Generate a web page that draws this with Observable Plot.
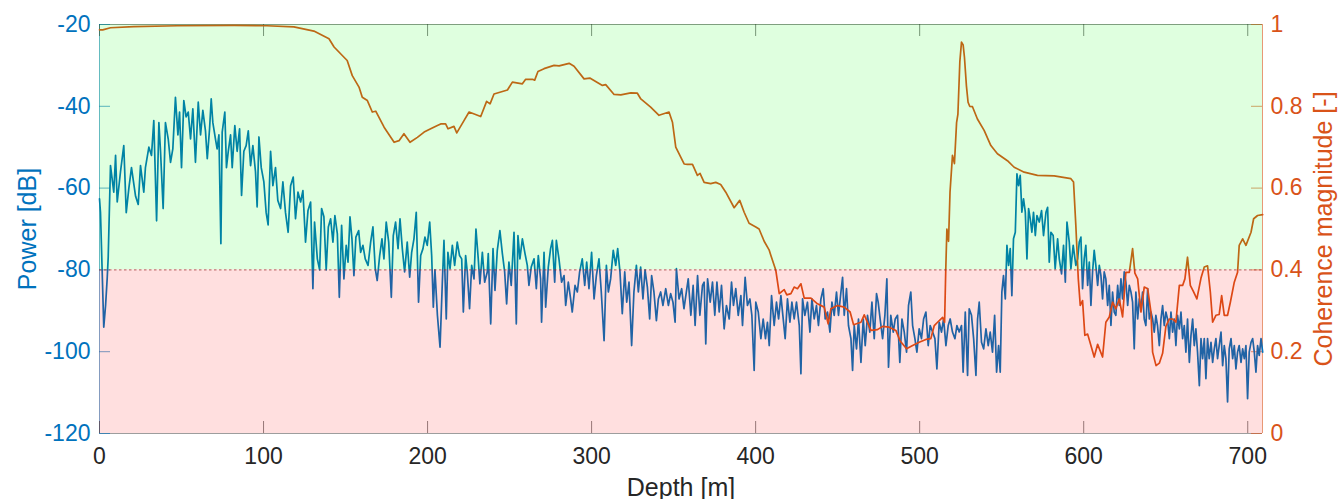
<!DOCTYPE html>
<html><head><meta charset="utf-8">
<script src="https://cdn.jsdelivr.net/npm/d3@7"></script>
<script src="https://cdn.jsdelivr.net/npm/@observablehq/plot@0.6"></script>
<style>
body{margin:0;background:#fff;}
#chart svg{display:block;}
</style></head><body><div id="chart"></div><script>
// ---- data (depth [m], value) ----
const powerSeries = [
[0.0,-62.6],[0.6,-65.9],[2.6,-94.0],[3.7,-88.7],[4.7,-82],[5.3,-77],[6.7,-54.5],[8.7,-61],[9.8,-52],[10.8,-63.4],
[12.8,-56],[14.8,-49.6],[16.3,-66],[17.9,-60],[19.5,-55],[22.0,-62],[23.6,-64],[25.0,-54.5],[27.0,-61],[28.0,-55],
[30.1,-50],[31.7,-52],[33.1,-43.5],[34.8,-68],[36.2,-44],[37.2,-51],[38.8,-65],[40.2,-44],[41.9,-48],[43.3,-53.7],
[44.7,-50.4],[46.3,-37.8],[47.8,-47],[48.8,-41.4],[50.0,-55],[51.4,-38.6],[52.8,-42.6],[54.1,-41.4],[55.5,-48],[56.9,-40.6],
[58.5,-53.7],[60.2,-39],[61.6,-47],[63.0,-41],[64.6,-46],[65.7,-52.8],[67.1,-45.5],[68.1,-38.2],[69.1,-44],[70.7,-48],
[71.7,-50.4],[72.8,-47],[74.0,-73.6],[74.8,-46.3],[76.4,-41.4],[77.4,-55],[78.5,-51],[79.9,-47],[80.9,-55],[82.5,-44.7],
[83.9,-51],[85.4,-45.5],[86.6,-61.8],[88.0,-51],[89.4,-49.6],[90.7,-46],[92.1,-54.5],[93.5,-49.6],[95.1,-56],[96.1,-64.6],
[97.2,-47.5],[98.6,-55],[100.2,-58.5],[101.6,-66],[102.8,-69],[104.3,-51],[105.7,-59.4],[107.3,-55],[108.7,-63],[110.4,-65],
[111.8,-58.5],[113.4,-66],[115.0,-70.8],[116.5,-59.4],[118.1,-57.3],[119.5,-67.5],[121.0,-61],[122.6,-63.4],[124.0,-60.6],[125.6,-73.2],
[127.1,-65.5],[128.7,-63.4],[130.1,-84.6],[131.1,-68.3],[132.8,-77.3],[134.2,-80],[135.4,-65],[136.8,-67],[138.2,-80],[139.5,-69.5],
[140.9,-67.5],[142.3,-73.2],[143.5,-66.7],[145.0,-71.2],[146.2,-86.7],[147.6,-69.1],[149.0,-82.2],[150.4,-74],[151.5,-78.1],[152.7,-67],
[153.9,-72.4],[155.1,-81.4],[156.3,-72],[158.0,-70.4],[159.2,-75.7],[160.6,-74],[162.0,-77.3],[163.7,-78.9],[165.3,-73.2],[166.7,-69.5],
[168.1,-79.7],[169.3,-82.6],[170.8,-76.5],[172.2,-72.4],[173.4,-77.3],[174.8,-68.3],[176.3,-73.2],[177.9,-86.7],[179.1,-71.6],[180.5,-68.3],
[182.0,-74.8],[183.2,-67.5],[184.6,-74.8],[186.0,-80.5],[187.6,-73.2],[189.1,-81.8],[190.3,-75.7],[191.7,-72.4],[193.1,-65.9],[194.5,-87.9],
[195.8,-76.5],[197.2,-74.8],[198.4,-72],[199.8,-74],[201.3,-68.3],[202.5,-76.5],[203.5,-89.1],[204.5,-80],[206.0,-91.1],[207.6,-98.9],
[209.0,-83],[210.0,-72.8],[211.4,-92],[212.4,-75.7],[213.7,-79.7],[215.1,-74],[216.5,-78.9],[218.1,-73.2],[219.5,-76.5],[220.8,-77.3],
[221.8,-90.3],[223.2,-76.5],[224.2,-80.5],[225.6,-89.5],[226.9,-78.9],[228.3,-82.2],[229.5,-70],[230.9,-77.3],[231.9,-83.4],[233.4,-75.7],
[234.8,-83],[236.4,-80.5],[237.0,-76],[238.5,-93.2],[239.9,-74.8],[241.1,-85],[242.5,-75.2],[244.1,-70.4],[245.6,-76],[247.0,-80.5],
[248.2,-88.3],[249.6,-78.1],[251.0,-83.8],[252.7,-70.8],[254.1,-93.2],[255.1,-71.6],[256.3,-77.3],[257.8,-72.4],[259.4,-76],[260.8,-78.9],
[261.8,-83.8],[263.2,-79.3],[264.9,-77.3],[266.3,-84.6],[267.5,-76.5],[268.9,-82.2],[269.5,-92.8],[271.0,-75.7],[272.0,-89.1],[273.6,-79.3],
[275.0,-74.8],[276.1,-72.8],[277.5,-83],[278.5,-72.8],[280.1,-77.3],[281.7,-83],[283.2,-81.4],[284.2,-88.7],[285.8,-83],[287.2,-87.1],
[288.2,-90.3],[289.9,-83.8],[291.3,-85.4],[292.7,-80.5],[294.3,-77.3],[295.8,-83.8],[297.0,-78.1],[298.4,-84.6],[300.0,-75.7],[301.5,-87.1],
[302.9,-81.4],[304.5,-77.3],[305.9,-85.4],[307.6,-97.3],[309.0,-78.9],[310.2,-85.4],[311.6,-82.2],[313.2,-75.2],[314.7,-78.9],[315.9,-74.8],
[317.3,-80.5],[318.7,-90.7],[320.2,-80.5],[321.4,-87.9],[322.8,-83],[324.4,-98.5],[325.8,-85.4],[327.3,-78.9],[328.5,-85.4],[329.9,-79.3],
[331.3,-87.1],[332.6,-80],[334.0,-84.2],[335.4,-92],[336.6,-81.4],[338.0,-85.4],[339.5,-92.4],[340.7,-87.1],[342.1,-85.4],[343.5,-88.7],
[345.2,-84.6],[346.8,-88.7],[348.2,-85.8],[349.6,-87.9],[350.9,-92.8],[351.7,-79.7],[353.3,-87.1],[354.9,-84.6],[356.3,-89.5],[358.9,-82.2],
[360.5,-91.1],[361.9,-83.8],[363.1,-93.6],[364.6,-81.4],[366.0,-91.1],[367.6,-83.8],[368.6,-83],[369.6,-98.1],[370.7,-82.2],[372.3,-87.9],
[373.7,-83],[375.1,-91.1],[376.4,-83],[377.8,-90.3],[379.2,-83.8],[380.8,-94.4],[382.2,-88.7],[383.9,-92],[385.3,-83],[386.5,-88.7],
[387.9,-84.6],[389.4,-91.1],[391.0,-86.3],[392.0,-93.6],[393.6,-81.8],[395.0,-88.7],[396.5,-87.1],[397.7,-91.1],[399.1,-104.6],[400.1,-87.9],
[401.6,-90.3],[403.2,-96.8],[404.6,-92],[406.0,-96.8],[407.2,-92.8],[408.3,-98.5],[409.7,-86.3],[411.3,-93.6],[412.7,-87.9],[414.0,-92],
[415.4,-86.3],[416.6,-91.1],[418.0,-96.8],[419.4,-87.1],[420.9,-92.8],[422.1,-87.9],[423.5,-92],[424.9,-87.9],[426.6,-93.6],[427.6,-105.4],
[428.6,-87.1],[430.0,-91.1],[431.6,-87.9],[433.1,-95.2],[434.3,-87.1],[435.7,-92],[437.1,-88.7],[438.3,-93.6],[439.8,-87.1],[441.2,-84.6],
[442.4,-92],[443.8,-90.3],[445.3,-95.2],[446.5,-87.9],[447.9,-91.1],[449.3,-85.4],[450.5,-91.1],[452.0,-85.4],[453.0,-81.8],[454.0,-91.1],
[455.4,-84.6],[456.6,-93.6],[458.1,-96.8],[459.1,-104.6],[460.1,-93.6],[461.5,-99.3],[462.7,-92],[464.2,-102.6],[465.6,-92],[466.8,-98.5],
[468.2,-91.1],[469.6,-95.2],[470.9,-87.9],[472.3,-96.8],[473.7,-85.8],[474.7,-87.9],[475.9,-92],[477.4,-96.8],[478.8,-91.1],[480.0,-82.2],
[481.0,-103.8],[482.4,-91.1],[483.9,-95.2],[485.1,-92],[486.5,-91.1],[487.9,-102.6],[489.2,-92],[490.6,-95.2],[492.0,-100.1],[493.2,-88.7],
[494.6,-85.4],[495.7,-93.6],[497.1,-96.8],[498.3,-100.1],[499.7,-94.4],[501.1,-96.8],[502.4,-92],[503.8,-90.3],[505.2,-98.5],[506.4,-93.6],
[507.9,-95.2],[509.3,-96.8],[510.5,-104.2],[511.9,-92.8],[513.3,-95.2],[514.6,-92],[516.0,-98.5],[517.4,-93.6],[518.6,-92],[520.0,-95.2],
[521.5,-96.8],[522.7,-93.6],[524.1,-95.2],[525.5,-93.6],[526.5,-105],[527.8,-90.3],[529.2,-105.8],[530.2,-89.5],[531.6,-91.1],[532.9,-96.8],
[534.3,-105.8],[535.3,-92],[536.3,-87.9],[537.7,-97.7],[539.0,-99.3],[540.4,-94.4],[541.8,-98.5],[543.0,-95.2],[544.4,-100.1],[545.7,-91.1],
[546.9,-105],[548.1,-98.5],[549.1,-105],[550.1,-85.4],[551.1,-81.4],[552.2,-87.1],[553.2,-74],[554.2,-78.9],[555.2,-74.8],[556.2,-86.3],
[557.2,-72.4],[558.3,-70.8],[559.3,-56.5],[560.3,-59.4],[561.3,-56.9],[562.3,-65.9],[563.3,-62.6],[564.4,-65.9],[565.4,-77.3],[566.4,-65],
[567.4,-67.5],[568.4,-70.8],[569.4,-65.9],[570.5,-71.6],[571.5,-66.7],[572.9,-68.3],[574.3,-65.5],[575.5,-71.6],[577.0,-65.9],[578.0,-64.7],
[579.0,-78.1],[580.0,-70.8],[581.4,-71.6],[582.6,-79.7],[584.1,-72.4],[585.1,-77.3],[586.5,-81],[587.7,-74],[588.8,-83],[589.8,-68.3],
[591.2,-73.2],[592.2,-79.7],[593.6,-74],[595.2,-78.9],[596.3,-77.3],[597.3,-73.2],[598.3,-72],[599.3,-84.6],[600.3,-77.3],[601.3,-74],
[602.4,-83.8],[603.4,-78.1],[604.4,-88.7],[605.4,-80.5],[606.4,-75.2],[607.4,-78.9],[608.5,-83.8],[609.5,-78.9],[610.5,-81.4],[611.5,-87.1],
[612.5,-80.5],[613.5,-82.2],[614.6,-88.7],[615.6,-83.8],[616.6,-93.6],[617.6,-85.4],[618.6,-90.3],[619.6,-91.1],[620.7,-83.8],[621.7,-88.7],
[622.7,-82.2],[623.7,-87.1],[624.7,-80.5],[625.7,-83],[626.8,-88.7],[627.8,-83.8],[628.8,-85.4],[629.8,-87.9],[630.8,-99.3],[631.8,-85.4],
[632.9,-92],[633.9,-87.1],[634.9,-89.5],[635.9,-85.4],[636.9,-92],[637.9,-93.6],[639.0,-84.6],[640.0,-92],[641.0,-90.3],[642.0,-92],
[643.0,-95.2],[644.0,-91.1],[645.0,-93.6],[646.1,-98.5],[647.1,-92],[648.1,-88.7],[649.1,-93.6],[650.1,-90.3],[651.1,-92],[652.2,-96.8],
[653.2,-90.3],[654.2,-95.2],[655.2,-92],[656.2,-98.5],[657.2,-91.1],[658.3,-94.4],[659.3,-90.3],[660.3,-96.8],[661.3,-93.6],[662.3,-100.1],
[663.3,-92],[664.4,-102.6],[665.4,-96],[666.4,-92],[667.4,-98.5],[668.4,-94.4],[669.4,-100.1],[670.5,-108.3],[671.5,-96.8],[672.5,-101.7],
[673.5,-96.8],[674.5,-106.6],[675.5,-96.8],[676.5,-101.7],[677.6,-97.7],[678.6,-102.6],[679.6,-99.3],[680.6,-96.8],[681.6,-101.7],[682.6,-98.5],
[683.7,-95.2],[684.7,-103.4],[685.7,-98.5],[686.7,-101.7],[687.7,-112.3],[688.7,-99.3],[689.8,-96.8],[690.8,-101.7],[691.8,-98.5],[692.8,-104.2],
[693.8,-100.1],[694.8,-98.5],[695.9,-102.6],[696.9,-99.3],[697.9,-101.7],[698.9,-98.5],[699.9,-111.5],[700.9,-100.1],[702.0,-97.7],[703.0,-96.8],
[704.0,-100.1],[705.0,-105],[706.0,-98.5],[707.0,-100.9],[708.1,-96.8],[709.1,-100.1]
];
const coherenceSeries = [
[0,0.987],[2,0.987],[6.7,0.992],[20.9,0.995],[47.4,0.997],[82,0.998],[102,0.997],[118.5,0.994],[130.7,0.984],[139.9,0.965],
[143,0.945],[151,0.912],[154.1,0.875],[158.2,0.847],[160.2,0.822],[163.3,0.814],[166.3,0.786],[168.4,0.788],[173.5,0.749],[179.6,0.712],
[182.6,0.716],[185.6,0.733],[189.3,0.712],[193.8,0.724],[197.9,0.737],[201.9,0.745],[206,0.753],[208,0.757],[211,0.757],[212.5,0.745],
[216.1,0.751],[217.8,0.735],[222.2,0.765],[225.3,0.786],[232.4,0.775],[236,0.812],[238.1,0.806],[240.5,0.830],[248.7,0.840],[251.7,0.859],
[257.8,0.855],[259.8,0.866],[263.9,0.866],[265.3,0.864],[267.3,0.885],[271,0.892],[277.1,0.900],[280.2,0.899],[286.3,0.905],[289.3,0.898],
[295.4,0.867],[298.9,0.869],[306.6,0.851],[308.6,0.853],[313.7,0.829],[317.8,0.828],[323.9,0.833],[327.9,0.832],[330,0.818],[336,0.798],
[341.1,0.778],[347.2,0.786],[349.3,0.761],[351.3,0.700],[356.4,0.659],[358.4,0.658],[361.5,0.658],[364.5,0.631],[366.1,0.636],[368.6,0.614],
[372.6,0.611],[375.7,0.614],[378.7,0.609],[381.8,0.590],[386.9,0.552],[390.3,0.570],[393,0.541],[396,0.514],[400.1,0.505],[402.1,0.500],
[405.2,0.470],[408.2,0.449],[409.3,0.435],[412.3,0.399],[414.4,0.342],[417.4,0.352],[419,0.339],[421.5,0.342],[423.5,0.358],[425.5,0.354],
[427.6,0.366],[429.6,0.331],[433.7,0.331],[437.7,0.317],[441.8,0.309],[444.2,0.268],[445.9,0.305],[449.9,0.313],[454,0.309],[457.6,0.297],
[459.7,0.266],[464.2,0.272],[466.2,0.290],[470.3,0.252],[474.3,0.254],[477.4,0.262],[481.4,0.260],[485.5,0.252],[488,0.227],[492,0.207],
[495.7,0.215],[499.7,0.223],[503.8,0.230],[506.8,0.232],[508.9,0.264],[510.9,0.272],[514,0.284],[515.2,0.272],[515.9,0.40],[516.6,0.50],
[517.6,0.47],[518.5,0.59],[520,0.68],[521.2,0.66],[522.5,0.76],[523.3,0.78],[524.5,0.91],[525.5,0.957],[526.5,0.95],[527.3,0.92],
[528.5,0.85],[529.5,0.81],[530.5,0.80],[532.2,0.799],[535.2,0.769],[539.3,0.741],[543.4,0.704],[547.4,0.684],[553.5,0.667],[557.6,0.651],
[563.7,0.639],[571.8,0.631],[582,0.630],[592.2,0.623],[593.8,0.615],[595.2,0.509],[596.7,0.378],[597.9,0.313],[599.3,0.325],[600.7,0.240],
[602.4,0.243],[604.4,0.215],[606.4,0.187],[608.5,0.218],[611.5,0.187],[613.5,0.272],[615.6,0.285],[617.6,0.321],[619.6,0.305],[621.7,0.329],
[623.7,0.285],[625.7,0.394],[627.8,0.394],[629.8,0.452],[631.2,0.392],[632.9,0.378],[634.9,0.297],[636.9,0.358],[639,0.354],[641,0.297],
[642,0.199],[644.1,0.166],[646.1,0.172],[648.1,0.196],[650.1,0.262],[652.2,0.280],[654.2,0.280],[656.2,0.272],[658.3,0.362],[660.3,0.362],
[661.7,0.378],[663.3,0.431],[665,0.362],[667,0.346],[669,0.329],[671.5,0.38],[673.5,0.407],[675.5,0.41],[677.2,0.346],[678.6,0.272],
[680.6,0.289],[682.6,0.291],[684.1,0.337],[685.7,0.289],[687.7,0.289],[689.4,0.321],[691.8,0.370],[693.8,0.394],[694.8,0.460],[696.9,0.476],
[698.9,0.460],[702,0.492],[703.6,0.525],[706,0.533],[709.1,0.535]
];
const depthTicks = [0,100,200,300,400,500,600,700];
const powerTicks = [-120,-100,-80,-60,-40,-20];
const coherenceTicks = [0,0.2,0.4,0.6,0.8,1];
const depthRange = [0, 709];
const powerRange = [-120, -20];
const coherenceRange = [0, 1];
const powerThreshold = -80;   // equals coherence 0.4
const labels = {x: "Depth [m]", yLeft: "Power [dB]", yRight: "Coherence magnitude [-]"};

// map coherence onto the power (left) scale
const toPower = d3.scaleLinear().domain(coherenceRange).range(powerRange);

const BLUE = "#0072BD", ORANGE = "#D95319", DARK = "#262626";
const FONT = "'Liberation Sans', Arial, Helvetica, sans-serif";
const W = 1338, H = 499, mL = 99, mR = 76, mT = 24, mB = 66;
const innerH = H - mT - mB, innerW = W - mL - mR;
const hyphen = d => String(d);   // plain "-" like the reference

const chart = Plot.plot({
  width: W, height: H,
  marginLeft: mL, marginRight: mR, marginTop: mT, marginBottom: mB,
  x: {domain: depthRange, label: null},
  y: {domain: powerRange, label: null},
  style: {fontFamily: FONT, fontSize: "23px", background: "white", overflow: "visible"},
  marks: [
    // box
    Plot.ruleY([powerRange[1]], {stroke: DARK, strokeOpacity: 0.5, strokeWidth: 1}),
    Plot.ruleY([powerRange[0]], {stroke: DARK, strokeOpacity: 0.45, strokeWidth: 1}),
    Plot.ruleX([depthRange[0]], {stroke: BLUE, strokeOpacity: 0.55, strokeWidth: 1}),
    Plot.ruleX([depthRange[1]], {stroke: ORANGE, strokeOpacity: 0.6, strokeWidth: 1}),
    // inward ticks
    Plot.ruleX(depthTicks, {x: d => d, insetTop: innerH - 12, stroke: DARK, strokeOpacity: 0.55}),
    Plot.ruleX(depthTicks, {x: d => d, insetBottom: innerH - 12, stroke: DARK, strokeOpacity: 0.55}),
    Plot.ruleY(powerTicks, {y: d => d, insetRight: innerW - 11, stroke: BLUE, strokeOpacity: 0.6}),
    Plot.ruleY(coherenceTicks, {y: d => toPower(d), insetLeft: innerW - 11, stroke: ORANGE, strokeOpacity: 0.6}),
    // data
    Plot.line(powerSeries, {x: d => d[0], y: d => d[1], stroke: BLUE, strokeWidth: 1.7}),
    Plot.line(coherenceSeries, {x: d => d[0], y: d => toPower(d[1]), stroke: ORANGE, strokeWidth: 1.7}),
    // translucent zones on top
    Plot.rect([0], {x1: depthRange[0], x2: depthRange[1], y1: powerThreshold, y2: powerRange[1], fill: "#00ff00", fillOpacity: 0.125}),
    Plot.rect([0], {x1: depthRange[0], x2: depthRange[1], y1: powerRange[0], y2: powerThreshold, fill: "#ff0000", fillOpacity: 0.125}),
    Plot.ruleY([powerThreshold], {stroke: "#9a2a2a", strokeDasharray: "2.5,2.5", strokeWidth: 0.9, strokeOpacity: 0.8}),
    // tick labels
    Plot.axisX(depthTicks, {anchor: "bottom", tickSize: 0, tickPadding: 14, fill: DARK, fontSize: 23, label: null, tickFormat: hyphen}),
    Plot.axisY(powerTicks, {anchor: "left", tickSize: 0, tickPadding: 9, fill: BLUE, fontSize: 23, label: null, tickFormat: hyphen}),
    Plot.axisY(coherenceTicks.map(c => toPower(c)), {anchor: "right", tickSize: 0, tickPadding: 8, fill: ORANGE, fontSize: 23, label: null,
      tickFormat: p => String(+toPower.invert(p).toFixed(2))}),
    // axis titles
    Plot.text([labels.x], {frameAnchor: "bottom", dy: 54, textAnchor: "middle", lineAnchor: "middle", fill: DARK, fontSize: 25}),
    Plot.text([labels.yLeft], {frameAnchor: "left", dx: -72, rotate: -90, textAnchor: "middle", lineAnchor: "middle", fill: BLUE, fontSize: 25}),
    Plot.text([labels.yRight], {frameAnchor: "right", dx: 61, rotate: -90, textAnchor: "middle", lineAnchor: "middle", fill: ORANGE, fontSize: 25})
  ]
});
document.getElementById("chart").appendChild(chart);
</script></body></html>
